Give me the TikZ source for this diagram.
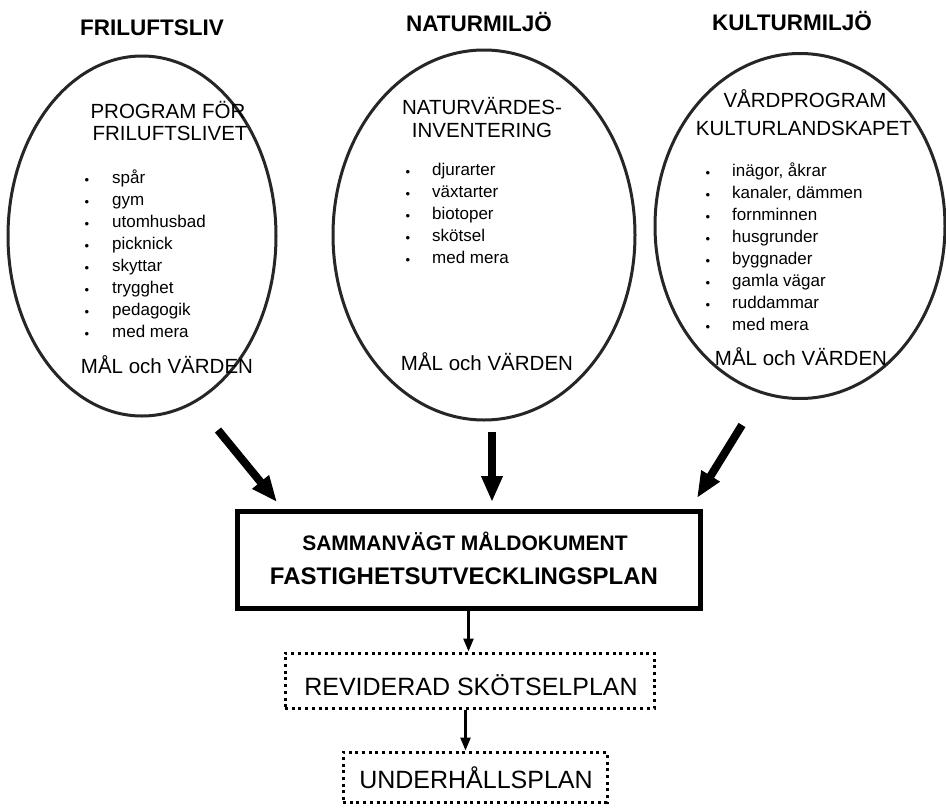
\documentclass[tikz,border=0pt]{standalone}
\usepackage{fontspec}
\setmainfont{Liberation Sans}
\usetikzlibrary{shapes.geometric,arrows.meta}
\tikzset{
  oval/.style={ellipse, draw=black!85, line width=3pt, inner sep=0pt},
  titletxt/.style={font=\fontsize{22.5}{26}\selectfont\bfseries, inner sep=0pt, anchor=base},
  headtxt/.style={font=\fontsize{20.5}{24}\selectfont, inner sep=0pt, anchor=base},
  itemtxt/.style={font=\fontsize{17}{20}\selectfont, anchor=mid west, inner sep=0pt},
  dottxt/.style={font=\fontsize{13}{15}\selectfont, inner sep=0pt},
  bigarrow/.style={line width=8pt, -{Triangle[length=26pt,width=20pt]}},
  smallarrow/.style={line width=2.6pt, -{Triangle[length=13pt,width=10pt]}},
  mainbox/.style={draw, line width=5pt, inner sep=0pt},
  maintxt/.style={font=\bfseries, inner sep=0pt, anchor=base},
  dotbox/.style={draw, line width=3pt, dash pattern=on 3pt off 3.7pt, inner sep=0pt},
  boxtxt/.style={font=\fontsize{25}{29}\selectfont, inner sep=0pt, anchor=base}
}
\begin{document}
\begin{tikzpicture}[x=1pt,y=-1pt]
\useasboundingbox (0,0) rectangle (946,809);
\fill[white] (0,0) rectangle (946,809);

% titles
\node[titletxt] (t1) at (152,35) {FRILUFTSLIV};
\node[titletxt] (t2) at (479,31) {NATURMILJÖ};
\node[titletxt] (t3) at (792,30) {KULTURMILJÖ};

% ellipses
\node[oval, minimum width=268pt, minimum height=360pt] (e1) at (142,236) {};
\node[oval, minimum width=302pt, minimum height=370pt] (e2) at (484,235) {};
\node[oval, minimum width=290pt, minimum height=345pt] (e3) at (800,226) {};

% ellipse 1 content
\node[headtxt] (h1a) at (168,118) {PROGRAM FÖR};
\node[headtxt] (h1b) at (170,140) {FRILUFTSLIVET};
\foreach \y/\t [count=\i] in {181/spår,203/gym,225/utomhusbad,247/picknick,269/skyttar,291/trygghet,313/pedagogik,335/med mera}{
  \node[dottxt] (b1\i) at (87,\y) {•};
  \node[itemtxt] (i1\i) at (112,\y) {\t};
}
\node[headtxt] (m1) at (167,373) {MÅL och VÄRDEN};

% ellipse 2 content
\node[headtxt] (h2a) at (482,114) {NATURVÄRDES-};
\node[headtxt] (h2b) at (482,137) {INVENTERING};
\foreach \y/\t [count=\i] in {173/djurarter,195/växtarter,217/biotoper,239/skötsel,261/med mera}{
  \node[dottxt] (b2\i) at (408,\y) {•};
  \node[itemtxt] (i2\i) at (432,\y) {\t};
}
\node[headtxt] (m2) at (487,370) {MÅL och VÄRDEN};

% ellipse 3 content
\node[headtxt] (h3a) at (805,107) {VÅRDPROGRAM};
\node[headtxt] (h3b) at (804,135) {KULTURLANDSKAPET};
\foreach \y/\t [count=\i] in {174/{inägor, åkrar},196/{kanaler, dämmen},218/fornminnen,240/husgrunder,262/byggnader,284/gamla vägar,306/ruddammar,328/med mera}{
  \node[dottxt] (b3\i) at (708,\y) {•};
  \node[itemtxt] (i3\i) at (732,\y) {\t};
}
\node[headtxt] (m3) at (801,365) {MÅL och VÄRDEN};

% main box
\node[mainbox, minimum width=463pt, minimum height=97pt] (main) at (468.5,559.5) {};
\node[maintxt, font=\fontsize{21}{25}\selectfont\bfseries] (mt1) at (465,550) {SAMMANVÄGT MÅLDOKUMENT};
\node[maintxt, font=\fontsize{24}{28}\selectfont\bfseries] (mt2) at (464,584) {FASTIGHETSUTVECKLINGSPLAN};

% dotted boxes
\node[dotbox, minimum width=369pt, minimum height=55pt] (rev) at (469.5,680.5) {};
\node[boxtxt] (revt) at (471,695) {REVIDERAD SKÖTSELPLAN};
\node[dotbox, minimum width=264pt, minimum height=50pt] (und) at (475,777) {};
\node[boxtxt] (undt) at (476,788) {UNDERHÅLLSPLAN};

% big arrows
\coordinate (a1s) at (218,430);
\coordinate (a1e) at (277,502);
\coordinate (a2s) at (492,432);
\coordinate (a2e) at (492,502);
\coordinate (a3s) at (742,425);
\coordinate (a3e) at (697,498);
\draw[bigarrow] (a1s) -- (a1e);
\draw[bigarrow] (a2s) -- (a2e);
\draw[bigarrow] (a3s) -- (a3e);

% small arrows
\draw[smallarrow] (main.south) -- (main.south |- rev.north);
\coordinate (r2) at ([xshift=-4pt]rev.south);
\draw[smallarrow] (r2) -- (r2 |- und.north);
\end{tikzpicture}
\end{document}
